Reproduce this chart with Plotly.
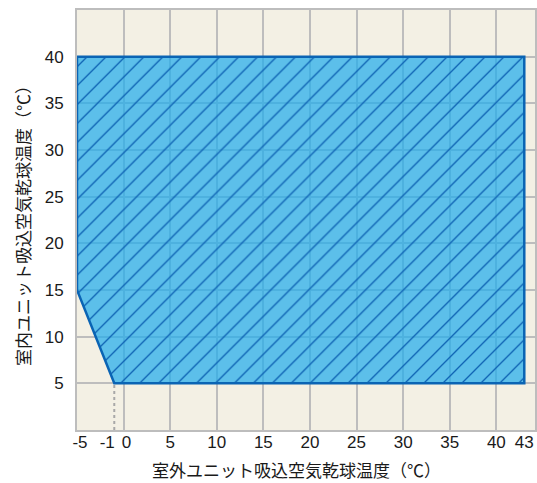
import plotly.graph_objects as go

# Operating range polygon (outdoor dry-bulb temp vs indoor dry-bulb temp)
outdoor_temp = [-5, -5, 43, 43, -1, -5]
indoor_temp = [15, 40, 40, 5, 5, 15]

# dotted guide at the lower-left corner
guide_x = [-1, -1]
guide_y = [0, 5]

# x tick labels (split into groups so the crowded ones near 0 can be nudged)
x_tick_vals_main = [5, 10, 15, 20, 25, 30, 35, 40, 43]
x_tick_text_main = ["5", "10", "15", "20", "25", "30", "35", "40", "43"]
x_tick_vals_left = [-1]
x_tick_text_left = ["-1"]
x_tick_vals_right = [-5, 0]
x_tick_text_right = ["-5", "0"]
x_grid_vals = [-5, 0, 5, 10, 15, 20, 25, 30, 35, 40]
y_tick_vals = [5, 10, 15, 20, 25, 30, 35, 40]
y_tick_text = ["5", "10", "15", "20", "25", "30", "35", "40"]

x_title = "室外ユニット吸込空気乾球温度（℃）"
y_title = "室内ユニット吸込空気乾球温度（℃）"

FONT = "Liberation Sans, Arial, Noto Sans CJK JP, sans-serif"
CJK = "Noto Sans CJK JP, sans-serif"
GRID = "#bdbdbd"
X_RANGE = [-5, 44.15]
Y_RANGE = [0, 45]
TICKFONT = dict(family=FONT, size=17, color="#1a1a1a")

fig = go.Figure()

fig.add_trace(go.Scatter(
    x=guide_x, y=guide_y, mode="lines",
    line=dict(color="#a8a8a8", width=2, dash="dot"),
    hoverinfo="skip", showlegend=False, xaxis="x2",
))

fig.add_trace(go.Scatter(
    x=outdoor_temp, y=indoor_temp, mode="lines",
    fill="toself",
    fillcolor="rgba(35,173,236,0.73)",
    fillpattern=dict(shape="/", bgcolor="rgba(35,173,236,0.73)", fgcolor="#0d62b3",
                     fgopacity=1, size=13.4, solidity=0.1),
    line=dict(color="#0a64b4", width=2.5),
    hoverinfo="skip", showlegend=False,
))

# empty carriers so the label-only axes are drawn
fig.add_trace(go.Scatter(x=[], y=[], xaxis="x3", showlegend=False, hoverinfo="skip"))
fig.add_trace(go.Scatter(x=[], y=[], xaxis="x4", showlegend=False, hoverinfo="skip"))


def label_axis(vals, text, shift):
    return dict(
        range=X_RANGE, overlaying="x", anchor="y", side="bottom",
        tickmode="array", tickvals=vals, ticktext=text,
        tickangle=0, ticks="", ticklabelshift=shift,
        showgrid=False, zeroline=False, showline=False,
        tickfont=TICKFONT, fixedrange=True,
    )


fig.update_layout(
    width=537, height=483,
    margin=dict(l=77, r=0, t=10, b=53),
    paper_bgcolor="white",
    plot_bgcolor="#f3f0e4",
    font=dict(family=FONT, size=16, color="#1a1a1a"),
    xaxis=dict(
        range=X_RANGE, tickmode="array", tickvals=x_grid_vals,
        showticklabels=False, showgrid=True, gridcolor=GRID, gridwidth=2,
        zeroline=False, showline=True, linecolor=GRID, linewidth=2, mirror=True,
        fixedrange=True,
    ),
    xaxis2=label_axis(x_tick_vals_main, x_tick_text_main, 0),
    xaxis3=label_axis(x_tick_vals_left, x_tick_text_left, -7),
    xaxis4=label_axis(x_tick_vals_right, x_tick_text_right, 3),
    yaxis=dict(
        range=Y_RANGE, tickmode="array", tickvals=y_tick_vals, ticktext=y_tick_text,
        ticks="outside", ticklen=8, tickcolor="rgba(0,0,0,0)",
        showgrid=True, gridcolor=GRID, gridwidth=2,
        zeroline=False, showline=True, linecolor=GRID, linewidth=2, mirror=True,
        tickfont=TICKFONT, fixedrange=True,
    ),
    annotations=[
        dict(text=x_title, xref="paper", yref="paper", x=0.48, y=0,
             xanchor="center", yanchor="middle", yshift=-39, showarrow=False,
             font=dict(family=CJK, size=17, color="#1a1a1a")),
        dict(text=y_title, xref="paper", yref="paper", x=0, y=0.495,
             xanchor="center", yanchor="middle", xshift=-55, textangle=-90,
             showarrow=False, font=dict(family=CJK, size=17, color="#1a1a1a")),
    ],
)

fig.write_html(
    "out.html",
    config={"displayModeBar": False},
    post_script="document.body.style.margin='0';document.body.style.overflow='hidden';",
)
